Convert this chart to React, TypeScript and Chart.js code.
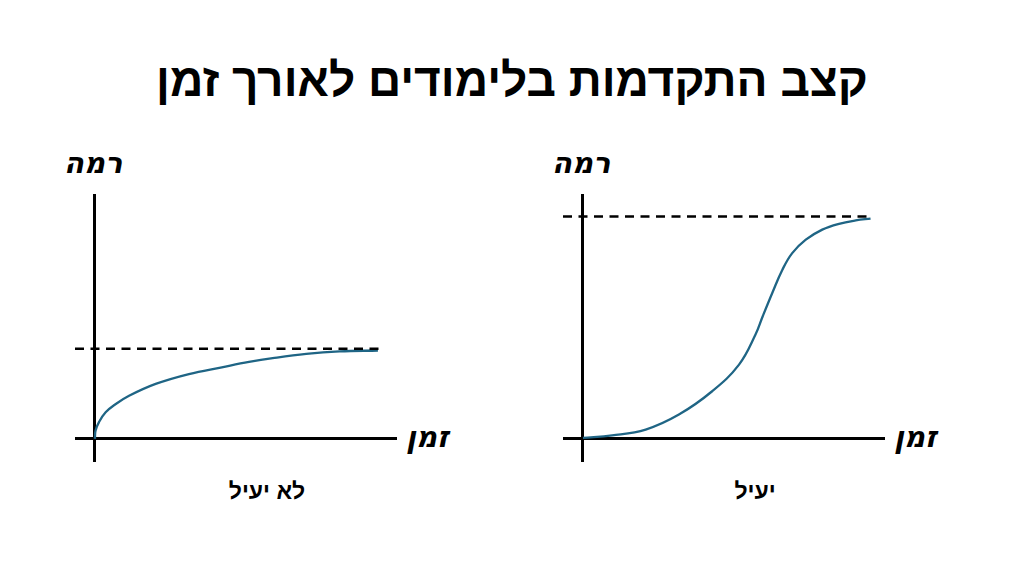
import { useEffect, useRef } from "react";
import { Chart, registerables } from "chart.js";

Chart.register(...registerables);

// time on x, level on y (same units in both panels)
const slowTime = [0, 0.02, 0.14, 0.37, 0.72, 1.18, 2.1, 3.25, 4.39, 5.33, 6.15, 7.31, 8.46, 9.79];
const slowLevel = [0, 0.37, 0.75, 1.19, 1.56, 1.93, 2.46, 2.9, 3.2, 3.44, 3.61, 3.8, 3.91, 3.95];
const slowCeiling = 4.03;

const fastTime = [0, 1.01, 2.17, 3.32, 4.47, 5.4, 5.97, 6.22, 6.55, 6.9, 7.24, 7.71, 8.28, 8.86, 9.44, 9.95];
const fastLevel = [0.05, 0.16, 0.42, 1.09, 2.13, 3.32, 4.66, 5.48, 6.52, 7.56, 8.3, 8.9, 9.35, 9.61, 9.76, 9.84];
const fastCeiling = 9.94;

const ceilingFrom = -0.69;
const slowCeilingTo = 9.91;
const fastCeilingTo = 9.97;

const X_MIN = -0.69;
const X_MAX = 10.45;
const Y_MIN = -1.03;
const Y_MAX = 10.94;

const CURVE = "#1f6585";
const HAND = "'DejaVu Sans', sans-serif";
const BOLD = "'Liberation Sans', 'DejaVu Sans', sans-serif";

function Panel({ times, levels, ceiling, ceilingTo, left, caption }: {
  times: number[];
  levels: number[];
  ceiling: number;
  ceilingTo: number;
  left: number;
  caption: string;
}) {
  const ref = useRef<HTMLCanvasElement>(null);

  useEffect(() => {
    if (!ref.current) return;
    const axisOnly = {
      display: true,
      type: "linear" as const,
      ticks: { display: false },
      border: { display: false },
      grid: {
        drawTicks: false,
        color: (c: any) => (c.tick && c.tick.value === 0 ? "#000" : "rgba(0,0,0,0)"),
        lineWidth: 3,
      },
      afterBuildTicks: (s: any) => {
        s.ticks = [{ value: 0 }];
      },
    };
    const chart = new Chart(ref.current, {
      type: "scatter",
      data: {
        datasets: [
          {
            data: [
              { x: ceilingFrom, y: ceiling },
              { x: ceilingTo, y: ceiling },
            ],
            showLine: true,
            borderColor: "#000",
            borderWidth: 2.5,
            borderDash: [9, 6.5],
            pointRadius: 0,
          },
          {
            data: times.map((t, i) => ({ x: t, y: levels[i] })),
            showLine: true,
            borderColor: CURVE,
            borderWidth: 2.3,
            tension: 0.4,
            pointRadius: 0,
          },
        ],
      },
      options: {
        responsive: false,
        animation: false,
        layout: { padding: 0 },
        plugins: { legend: { display: false }, tooltip: { enabled: false } },
        scales: {
          x: { ...axisOnly, min: X_MIN, max: X_MAX },
          y: { ...axisOnly, min: Y_MIN, max: Y_MAX },
        },
      },
    });
    return () => chart.destroy();
  }, [times, levels, ceiling, ceilingTo]);

  const hand: React.CSSProperties = {
    position: "absolute",
    fontFamily: HAND,
    fontStyle: "italic",
    fontWeight: "bold",
    fontSize: 29,
    lineHeight: "30px",
    color: "#000",
    direction: "rtl",
    whiteSpace: "nowrap",
  };

  return (
    <>
      <canvas
        ref={ref}
        width={322}
        height={268}
        style={{ position: "absolute", left, top: 194, width: 322, height: 268 }}
      />
      <div style={{ ...hand, left: left - 11, top: 148 }}>רמה</div>
      <div style={{ ...hand, left: left + 331, top: 422 }}>זמן</div>
      <div
        style={{
          position: "absolute",
          left: left + 42,
          width: 300,
          top: 478,
          textAlign: "center",
          fontFamily: BOLD,
          fontWeight: "bold",
          fontSize: 23,
          direction: "rtl",
        }}
      >
        {caption}
      </div>
    </>
  );
}

export default function App() {
  return (
    <div
      style={{
        position: "fixed",
        left: 0,
        top: 0,
        width: 1024,
        height: 576,
        background: "#fff",
        overflow: "hidden",
      }}
    >
      <div
        style={{
          position: "absolute",
          left: 0,
          width: 1024,
          top: 52,
          textAlign: "center",
          fontFamily: BOLD,
          fontWeight: "bold",
          fontSize: 46,
          lineHeight: "56px",
          direction: "rtl",
          color: "#000",
        }}
      >
        קצב התקדמות בלימודים לאורך זמן
      </div>
      <Panel
        times={slowTime}
        levels={slowLevel}
        ceiling={slowCeiling}
        ceilingTo={slowCeilingTo}
        left={75}
        caption="לא יעיל"
      />
      <Panel
        times={fastTime}
        levels={fastLevel}
        ceiling={fastCeiling}
        ceilingTo={fastCeilingTo}
        left={563}
        caption="יעיל"
      />
    </div>
  );
}
